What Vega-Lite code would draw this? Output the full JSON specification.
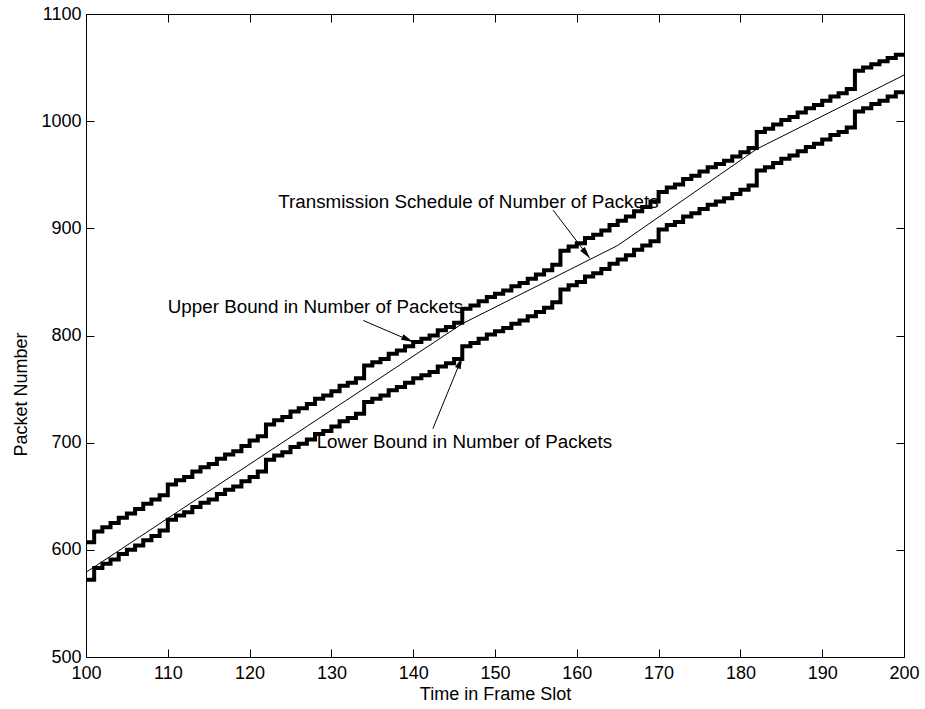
{
  "$schema": "https://vega.github.io/schema/vega-lite/v6.json",
  "width": 818,
  "height": 643,
  "autosize": {"type": "none"},
  "padding": {"left": 86, "top": 14, "right": 21, "bottom": 52},
  "background": "white",
  "config": {
    "view": {"stroke": null},
    "font": "Liberation Sans",
    "axis": {
      "grid": false,
      "domainColor": "#000000",
      "domainWidth": 1,
      "tickColor": "#000000",
      "tickWidth": 1,
      "tickSize": -8,
      "labelFont": "Liberation Sans",
      "labelFontSize": 18,
      "labelColor": "#000000",
      "labelFlush": false,
      "labelOverlap": false,
      "titleFont": "Liberation Sans",
      "titleFontSize": 18,
      "titleFontWeight": "normal",
      "titleColor": "#000000"
    }
  },
  "resolve": {"axis": {"x": "independent", "y": "independent"}},
  "datasets": {
    "bounds": [
      {"slot": 100, "upper": 607, "lower": 572},
      {"slot": 101, "upper": 617, "lower": 583},
      {"slot": 102, "upper": 621, "lower": 587},
      {"slot": 103, "upper": 625, "lower": 591},
      {"slot": 104, "upper": 630, "lower": 596},
      {"slot": 105, "upper": 634, "lower": 600},
      {"slot": 106, "upper": 638, "lower": 604},
      {"slot": 107, "upper": 643, "lower": 609},
      {"slot": 108, "upper": 647, "lower": 613},
      {"slot": 109, "upper": 651, "lower": 618},
      {"slot": 110, "upper": 661, "lower": 628},
      {"slot": 111, "upper": 665, "lower": 632},
      {"slot": 112, "upper": 668, "lower": 635},
      {"slot": 113, "upper": 673, "lower": 640},
      {"slot": 114, "upper": 677, "lower": 644},
      {"slot": 115, "upper": 680, "lower": 647},
      {"slot": 116, "upper": 685, "lower": 652},
      {"slot": 117, "upper": 689, "lower": 656},
      {"slot": 118, "upper": 692, "lower": 659},
      {"slot": 119, "upper": 697, "lower": 664},
      {"slot": 120, "upper": 702, "lower": 668},
      {"slot": 121, "upper": 706, "lower": 673},
      {"slot": 122, "upper": 717, "lower": 684},
      {"slot": 123, "upper": 721, "lower": 688},
      {"slot": 124, "upper": 724, "lower": 691},
      {"slot": 125, "upper": 729, "lower": 696},
      {"slot": 126, "upper": 732, "lower": 699},
      {"slot": 127, "upper": 736, "lower": 703},
      {"slot": 128, "upper": 741, "lower": 708},
      {"slot": 129, "upper": 744, "lower": 711},
      {"slot": 130, "upper": 748, "lower": 715},
      {"slot": 131, "upper": 753, "lower": 720},
      {"slot": 132, "upper": 756, "lower": 723},
      {"slot": 133, "upper": 760, "lower": 727},
      {"slot": 134, "upper": 772, "lower": 738},
      {"slot": 135, "upper": 775, "lower": 741},
      {"slot": 136, "upper": 778, "lower": 744},
      {"slot": 137, "upper": 783, "lower": 749},
      {"slot": 138, "upper": 786, "lower": 752},
      {"slot": 139, "upper": 790, "lower": 756},
      {"slot": 140, "upper": 794, "lower": 760},
      {"slot": 141, "upper": 797, "lower": 763},
      {"slot": 142, "upper": 800, "lower": 766},
      {"slot": 143, "upper": 805, "lower": 771},
      {"slot": 144, "upper": 808, "lower": 774},
      {"slot": 145, "upper": 812, "lower": 778},
      {"slot": 146, "upper": 825, "lower": 790},
      {"slot": 147, "upper": 828, "lower": 793},
      {"slot": 148, "upper": 832, "lower": 797},
      {"slot": 149, "upper": 836, "lower": 801},
      {"slot": 150, "upper": 839, "lower": 804},
      {"slot": 151, "upper": 842, "lower": 807},
      {"slot": 152, "upper": 846, "lower": 811},
      {"slot": 153, "upper": 849, "lower": 814},
      {"slot": 154, "upper": 853, "lower": 818},
      {"slot": 155, "upper": 857, "lower": 822},
      {"slot": 156, "upper": 861, "lower": 826},
      {"slot": 157, "upper": 866, "lower": 831},
      {"slot": 158, "upper": 879, "lower": 843},
      {"slot": 159, "upper": 883, "lower": 847},
      {"slot": 160, "upper": 886, "lower": 850},
      {"slot": 161, "upper": 891, "lower": 855},
      {"slot": 162, "upper": 894, "lower": 858},
      {"slot": 163, "upper": 898, "lower": 862},
      {"slot": 164, "upper": 903, "lower": 867},
      {"slot": 165, "upper": 907, "lower": 871},
      {"slot": 166, "upper": 911, "lower": 875},
      {"slot": 167, "upper": 916, "lower": 880},
      {"slot": 168, "upper": 920, "lower": 884},
      {"slot": 169, "upper": 925, "lower": 888},
      {"slot": 170, "upper": 934, "lower": 899},
      {"slot": 171, "upper": 938, "lower": 903},
      {"slot": 172, "upper": 941, "lower": 906},
      {"slot": 173, "upper": 946, "lower": 911},
      {"slot": 174, "upper": 949, "lower": 914},
      {"slot": 175, "upper": 953, "lower": 918},
      {"slot": 176, "upper": 957, "lower": 922},
      {"slot": 177, "upper": 960, "lower": 925},
      {"slot": 178, "upper": 963, "lower": 928},
      {"slot": 179, "upper": 967, "lower": 932},
      {"slot": 180, "upper": 971, "lower": 936},
      {"slot": 181, "upper": 975, "lower": 940},
      {"slot": 182, "upper": 990, "lower": 954},
      {"slot": 183, "upper": 993, "lower": 957},
      {"slot": 184, "upper": 997, "lower": 961},
      {"slot": 185, "upper": 1001, "lower": 965},
      {"slot": 186, "upper": 1004, "lower": 968},
      {"slot": 187, "upper": 1008, "lower": 972},
      {"slot": 188, "upper": 1012, "lower": 976},
      {"slot": 189, "upper": 1015, "lower": 979},
      {"slot": 190, "upper": 1019, "lower": 983},
      {"slot": 191, "upper": 1023, "lower": 987},
      {"slot": 192, "upper": 1026, "lower": 990},
      {"slot": 193, "upper": 1030, "lower": 994},
      {"slot": 194, "upper": 1047, "lower": 1009},
      {"slot": 195, "upper": 1050, "lower": 1012},
      {"slot": 196, "upper": 1053, "lower": 1016},
      {"slot": 197, "upper": 1056, "lower": 1019},
      {"slot": 198, "upper": 1059, "lower": 1023},
      {"slot": 199, "upper": 1062, "lower": 1027},
      {"slot": 200, "upper": 1062, "lower": 1027}
    ],
    "schedule": [
      {"slot": 100, "packets": 579},
      {"slot": 146, "packets": 811},
      {"slot": 165, "packets": 884},
      {"slot": 182, "packets": 974},
      {"slot": 200, "packets": 1043}
    ],
    "labels": [
      {"slot": 123.5, "packets": 925, "label": "Transmission Schedule of Number of Packets"},
      {"slot": 110.0, "packets": 827, "label": "Upper Bound in Number of Packets"},
      {"slot": 128.2, "packets": 701, "label": "Lower Bound in Number of Packets"}
    ],
    "arrows": [
      {"target": "schedule", "slot": 157.1, "packets": 917, "slot_end": 161.6, "packets_end": 872},
      {"target": "upper", "slot": 133.9, "packets": 814, "slot_end": 140.0, "packets_end": 794},
      {"target": "lower", "slot": 142.4, "packets": 713, "slot_end": 146.0, "packets_end": 780}
    ]
  },
  "layer": [
    {
      "data": {"name": "bounds"},
      "mark": {"type": "line", "interpolate": "step-after", "color": "#000000", "strokeWidth": 4, "strokeJoin": "miter"},
      "encoding": {
        "x": {
          "field": "slot", "type": "quantitative",
          "scale": {"domain": [100, 200], "nice": false, "zero": false},
          "axis": {"orient": "bottom", "values": [100, 110, 120, 130, 140, 150, 160, 170, 180, 190, 200], "format": "d", "labelPadding": 15, "title": "Time in Frame Slot", "titlePadding": 3}
        },
        "y": {
          "field": "upper", "type": "quantitative",
          "scale": {"domain": [500, 1100], "nice": false, "zero": false},
          "axis": {"orient": "left", "values": [500, 600, 700, 800, 900, 1000, 1100], "format": "d", "labelPadding": 13, "title": "Packet Number", "titleX": -56, "titleY": 380}
        }
      }
    },
    {
      "data": {"name": "bounds"},
      "mark": {"type": "line", "interpolate": "step-after", "color": "#000000", "strokeWidth": 4, "strokeJoin": "miter"},
      "encoding": {
        "x": {"field": "slot", "type": "quantitative", "axis": {"orient": "top", "values": [100, 110, 120, 130, 140, 150, 160, 170, 180, 190, 200], "labels": false, "title": null}},
        "y": {"field": "lower", "type": "quantitative", "axis": {"orient": "right", "values": [500, 600, 700, 800, 900, 1000, 1100], "labels": false, "title": null}}
      }
    },
    {
      "data": {"name": "schedule"},
      "mark": {"type": "line", "color": "#000000", "strokeWidth": 1},
      "encoding": {
        "x": {"field": "slot", "type": "quantitative", "axis": null},
        "y": {"field": "packets", "type": "quantitative", "axis": null}
      }
    },
    {
      "data": {"name": "arrows"},
      "mark": {"type": "rule", "color": "#000000", "strokeWidth": 1},
      "encoding": {
        "x": {"field": "slot", "type": "quantitative", "axis": null},
        "y": {"field": "packets", "type": "quantitative", "axis": null},
        "x2": {"field": "slot_end"},
        "y2": {"field": "packets_end"}
      }
    },
    {
      "data": {"name": "arrows"},
      "transform": [{"filter": "datum.target === 'schedule'"}],
      "mark": {"type": "point", "shape": "M0,0L-0.5,2L0.5,2Z", "filled": true, "color": "#000000", "opacity": 1, "size": 144, "angle": 142},
      "encoding": {
        "x": {"field": "slot_end", "type": "quantitative", "axis": null},
        "y": {"field": "packets_end", "type": "quantitative", "axis": null}
      }
    },
    {
      "data": {"name": "arrows"},
      "transform": [{"filter": "datum.target === 'upper'"}],
      "mark": {"type": "point", "shape": "M0,0L-0.5,2L0.5,2Z", "filled": true, "color": "#000000", "opacity": 1, "size": 144, "angle": 114},
      "encoding": {
        "x": {"field": "slot_end", "type": "quantitative", "axis": null},
        "y": {"field": "packets_end", "type": "quantitative", "axis": null}
      }
    },
    {
      "data": {"name": "arrows"},
      "transform": [{"filter": "datum.target === 'lower'"}],
      "mark": {"type": "point", "shape": "M0,0L-0.5,2L0.5,2Z", "filled": true, "color": "#000000", "opacity": 1, "size": 144, "angle": 22},
      "encoding": {
        "x": {"field": "slot_end", "type": "quantitative", "axis": null},
        "y": {"field": "packets_end", "type": "quantitative", "axis": null}
      }
    },
    {
      "data": {"name": "labels"},
      "mark": {"type": "text", "align": "left", "baseline": "middle", "font": "Liberation Sans", "fontSize": 18.8, "color": "#000000"},
      "encoding": {
        "x": {"field": "slot", "type": "quantitative", "axis": null},
        "y": {"field": "packets", "type": "quantitative", "axis": null},
        "text": {"field": "label"}
      }
    }
  ]
}
